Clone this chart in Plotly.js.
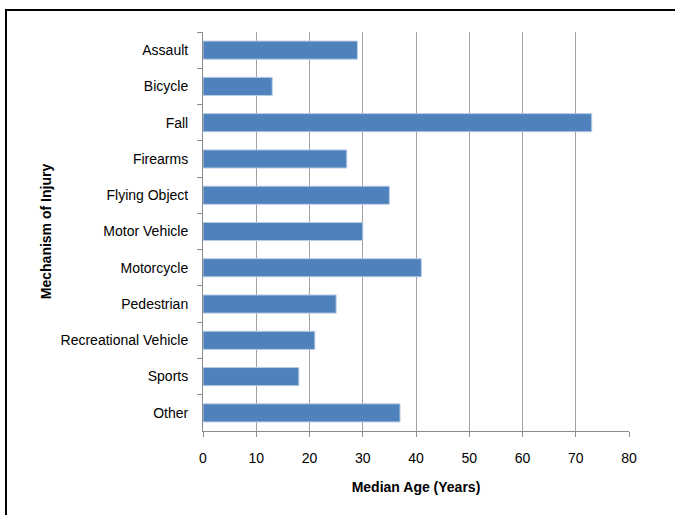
<!DOCTYPE html>
<html>
<head>
<meta charset="utf-8">
<script src="https://cdn.plot.ly/plotly-3.0.1.min.js"></script>
<style>
  html, body { margin: 0; padding: 0; background: #fff; }
  #wrap { position: relative; width: 675px; height: 515px; overflow: hidden; }
  #chart { position: absolute; left: 0; top: 0; width: 675px; height: 515px; }
  #frame { position: absolute; left: 5px; top: 9px; width: 690px; height: 530px; border: 2px solid #000; box-sizing: border-box; pointer-events: none; }
</style>
</head>
<body>
<div id="wrap">
  <div id="chart"></div>
  <div id="frame"></div>
</div>
<script>
const categories = ["Assault", "Bicycle", "Fall", "Firearms", "Flying Object", "Motor Vehicle",
  "Motorcycle", "Pedestrian", "Recreational Vehicle", "Sports", "Other"];
const medianAge = [29, 13, 73, 27, 35, 30, 41, 25, 21, 18, 37];
const xTicks = [0, 10, 20, 30, 40, 50, 60, 70, 80];

const FONT = "'Liberation Sans Narrow', 'Arial Narrow', 'Liberation Sans', Arial, sans-serif";

const trace = {
  type: "bar",
  orientation: "h",
  y: categories,
  x: medianAge,
  marker: { color: "#4F81BD", line: { color: "#B9CDE5", width: 1 } },
  hoverinfo: "none"
};

const layout = {
  width: 675,
  height: 515,
  margin: { l: 203, r: 46, t: 32, b: 84 },
  paper_bgcolor: "#ffffff",
  plot_bgcolor: "#ffffff",
  showlegend: false,
  bargap: 0.5,
  font: { family: FONT, size: 14, color: "#000" },
  xaxis: {
    range: [0, 80],
    tickvals: xTicks,
    ticktext: xTicks.map(String),
    showgrid: true,
    gridcolor: "#A0A0A0",
    gridwidth: 1,
    zeroline: false,
    showline: true,
    linecolor: "#8C8C8C",
    linewidth: 1,
    ticks: "outside",
    ticklen: 5,
    tickcolor: "#8C8C8C",
    ticklabelstandoff: 9,
    tickfont: { family: FONT, size: 14, color: "#000" },
    title: { text: "<b>Median Age (Years)</b>", font: { family: FONT, size: 14, color: "#000" }, standoff: 17 },
    fixedrange: true
  },
  yaxis: {
    type: "category",
    autorange: "reversed",
    showgrid: false,
    zeroline: false,
    showline: true,
    linecolor: "#8C8C8C",
    linewidth: 1,
    ticks: "outside",
    tickson: "boundaries",
    ticklen: 5,
    tickcolor: "#8C8C8C",
    ticklabelstandoff: 11,
    tickfont: { family: FONT, size: 14, color: "#000" },
    title: { text: "<b>Mechanism of Injury</b>", font: { family: FONT, size: 14, color: "#000" }, standoff: 5 },
    fixedrange: true
  }
};

Plotly.newPlot("chart", [trace], layout, { displayModeBar: false, staticPlot: true });
</script>
</body>
</html>
